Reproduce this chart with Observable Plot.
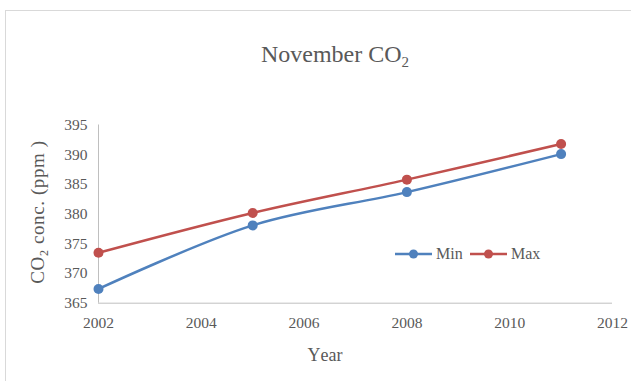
<!DOCTYPE html>
<html>
<head>
<meta charset="utf-8">
<script src="https://cdn.jsdelivr.net/npm/d3@7"></script>
<script src="https://cdn.jsdelivr.net/npm/@observablehq/plot@0.6"></script>
<style>
  html, body { margin: 0; padding: 0; background: #fff; overflow: hidden; }
  #wrap { position: relative; width: 631px; height: 381px; }
  #frame { position: absolute; left: 5px; top: 10px; width: 700px; height: 500px;
           border: 1.5px solid #d9d9d9; box-sizing: border-box; }
  #chart { position: absolute; left: 0; top: 0; }
</style>
</head>
<body>
<div id="wrap"><div id="frame"></div><div id="chart"></div></div>
<script>
// November CO2 concentration, minimum and maximum readings
const years = [2002, 2005, 2008, 2011];
const minValues = [367.4, 378.1, 383.7, 390.1];
const maxValues = [373.5, 380.2, 385.8, 391.8];
const seriesNames = ["Min", "Max"];
const seriesColors = ["#4f81bd", "#c0504d"];
const xTicks = [2002, 2004, 2006, 2008, 2010, 2012];
const yTicks = [365, 370, 375, 380, 385, 390, 395];

const rows = [
  ...years.map((year, i) => ({year, value: minValues[i], series: "Min"})),
  ...years.map((year, i) => ({year, value: maxValues[i], series: "Max"}))
];

const serif = "'Liberation Serif', 'Times New Roman', serif";
const grey = "#595959";

const chart = Plot.plot({
  width: 631,
  height: 381,
  marginLeft: 98,
  marginRight: 19,
  marginTop: 124.5,
  marginBottom: 78.3,
  style: {fontFamily: serif, fontSize: "15.5px", color: grey, background: "transparent", overflow: "visible"},
  x: {domain: [2002, 2012], ticks: xTicks, tickFormat: d => String(d), label: null, tickSize: 0, tickPadding: 14},
  y: {domain: [365, 395], ticks: yTicks, label: null, tickSize: 0, tickPadding: 11},
  color: {domain: seriesNames, range: seriesColors},
  marks: [
    Plot.ruleX([2002], {stroke: "#bfbfbf", strokeWidth: 1}),
    Plot.ruleY([365], {stroke: "#bfbfbf", strokeWidth: 1}),
    Plot.line(rows, {x: "year", y: "value", z: "series", stroke: "series",
                     strokeWidth: 2.5, curve: "catmull-rom"}),
    Plot.dot(rows, {x: "year", y: "value", fill: "series", r: 5, stroke: null})
  ]
});
document.getElementById("chart").appendChild(chart);

const svg = d3.select(chart);

// chart title with subscript
const title = svg.append("text")
  .attr("x", 335).attr("y", 62)
  .attr("text-anchor", "middle")
  .style("font-family", serif).style("font-size", "24px").style("fill", grey);
title.append("tspan").text("November CO");
title.append("tspan").attr("dy", 5).style("font-size", "15px").text("2");

// y-axis title
const yTitle = svg.append("text")
  .attr("transform", "translate(44,212) rotate(-90)")
  .attr("text-anchor", "middle")
  .style("font-family", serif).style("font-size", "19px").style("letter-spacing", "0.6px")
  .style("fill", grey);
yTitle.append("tspan").text("CO");
yTitle.append("tspan").attr("dy", 4).style("font-size", "12px").text("2");
yTitle.append("tspan").attr("dy", -4).text(" conc. (ppm )");

// x-axis title
const xTitle = svg.append("text")
  .attr("x", 325).attr("y", 361)
  .attr("text-anchor", "middle")
  .style("font-family", serif).style("font-size", "18px").style("fill", grey);
xTitle.append("tspan").text("Y");
xTitle.append("tspan").attr("dx", 2).text("ear");

// legend
const legend = svg.append("g").attr("transform", "translate(395,254)");
const itemOffsets = [0, 75];
seriesNames.forEach((name, i) => {
  const g = legend.append("g").attr("transform", `translate(${itemOffsets[i]},0)`);
  g.append("line").attr("x1", 0).attr("x2", 37).attr("y1", 0).attr("y2", 0)
    .attr("stroke", seriesColors[i]).attr("stroke-width", 2.5);
  g.append("circle").attr("cx", 18.5).attr("cy", 0).attr("r", 4.5).attr("fill", seriesColors[i]);
  g.append("text").attr("x", 41).attr("y", 5)
    .attr("text-anchor", "start")
    .style("font-family", serif).style("font-size", "16px").style("fill", grey)
    .text(name);
});
</script>
</body>
</html>
